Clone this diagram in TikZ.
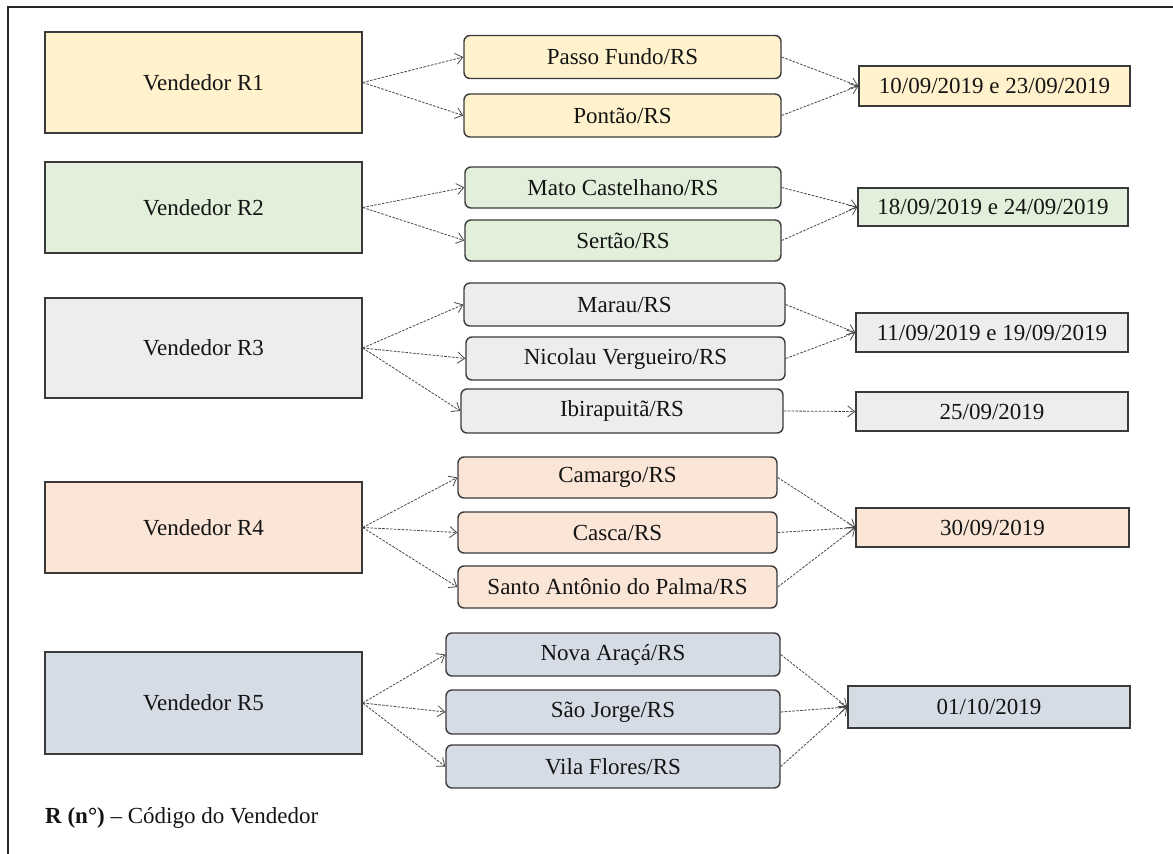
\documentclass[tikz,border=0pt]{standalone}
\usepackage{fontspec}
\setmainfont{Liberation Serif}
\usetikzlibrary{arrows.meta}

\definecolor{boxline}{HTML}{3A3A3A}
\definecolor{linkgray}{HTML}{474747}
\definecolor{framecol}{HTML}{262626}
\definecolor{inkcol}{HTML}{141414}
\definecolor{fillA}{HTML}{FFF2CC}
\definecolor{fillB}{HTML}{E2EFDA}
\definecolor{fillC}{HTML}{EDEDED}
\definecolor{fillD}{HTML}{FBE5D6}
\definecolor{fillE}{HTML}{D6DCE5}

\begin{document}
\begin{tikzpicture}[x=1pt, y=-1pt,
  every node/.style={font=\fontsize{23}{27}\selectfont, text=inkcol, inner sep=0pt},
  vend/.style={draw=boxline, line width=1.4pt, minimum width=317pt},
  city/.style={draw=boxline, line width=1.4pt, rounded corners=6pt},
  datebox/.style={draw=boxline, line width=1.4pt},
  link/.style={draw=linkgray, line width=0.8pt, dash pattern=on 2.6pt off 1.3pt,
    -{Straight Barb[length=7pt, width=11pt]}}
]
\useasboundingbox (0,0) rectangle (1173,854);

% outer frame (top and left edges)
\draw[framecol, line width=2pt] (8,854) -- (8,7) -- (1173,7);

% sellers
\node[vend, fill=fillA, minimum height=101pt] (v1) at (203.5,82.5) {Vendedor R1};
\node[vend, fill=fillB, minimum height=91pt]  (v2) at (203.5,207.5) {Vendedor R2};
\node[vend, fill=fillC, minimum height=100pt] (v3) at (203.5,348) {Vendedor R3};
\node[vend, fill=fillD, minimum height=91pt]  (v4) at (203.5,527.5) {Vendedor R4};
\node[vend, fill=fillE, minimum height=102pt] (v5) at (203.5,703) {Vendedor R5};

% cities
\node[city, fill=fillA, minimum width=317pt, minimum height=43pt] (c11) at (622.5,57) {Passo Fundo/RS};
\node[city, fill=fillA, minimum width=317pt, minimum height=43pt] (c12) at (622.5,115.5) {Pontão/RS};

\node[city, fill=fillB, minimum width=316pt, minimum height=41pt] (c21) at (623,187.5) {Mato Castelhano/RS};
\node[city, fill=fillB, minimum width=316pt, minimum height=41pt] (c22) at (623,240.5) {Sertão/RS};

\node[city, fill=fillC, minimum width=321pt, minimum height=43pt] (c31) at (624.5,304.5) {Marau/RS};
\node[city, fill=fillC, minimum width=319pt, minimum height=43pt] (c32) at (625.5,358.5) {Nicolau Vergueiro/RS};
\node[city, fill=fillC, minimum width=322pt, minimum height=44pt] (c33) at (622,411) {Ibirapuitã/RS};

\node[city, fill=fillD, minimum width=319pt, minimum height=41pt] (c41) at (617.5,477.5) {Camargo/RS};
\node[city, fill=fillD, minimum width=319pt, minimum height=41pt] (c42) at (617.5,532.5) {Casca/RS};
\node[city, fill=fillD, minimum width=319pt, minimum height=42pt] (c43) at (617.5,587) {Santo Antônio do Palma/RS};

\node[city, fill=fillE, minimum width=334pt, minimum height=43pt] (c51) at (613,654.5) {Nova Araçá/RS};
\node[city, fill=fillE, minimum width=334pt, minimum height=44pt] (c52) at (613,712) {São Jorge/RS};
\node[city, fill=fillE, minimum width=334pt, minimum height=43pt] (c53) at (613,766.5) {Vila Flores/RS};

% visit dates
\node[datebox, fill=fillA, minimum width=271pt, minimum height=40pt] (d1)  at (994.5,86) {10/09/2019 e 23/09/2019};
\node[datebox, fill=fillB, minimum width=270pt, minimum height=38pt] (d2)  at (993,207) {18/09/2019 e 24/09/2019};
\node[datebox, fill=fillC, minimum width=272pt, minimum height=39pt] (d31) at (992,332.5) {11/09/2019 e 19/09/2019};
\node[datebox, fill=fillC, minimum width=272pt, minimum height=39pt] (d32) at (992,411.5) {25/09/2019};
\node[datebox, fill=fillD, minimum width=273pt, minimum height=39pt] (d4)  at (992.5,527.5) {30/09/2019};
\node[datebox, fill=fillE, minimum width=282pt, minimum height=42pt] (d5)  at (989,707) {01/10/2019};

% seller -> city
\foreach \s/\c in {v1/c11, v1/c12, v2/c21, v2/c22, v3/c31, v3/c32, v3/c33,
                   v4/c41, v4/c42, v4/c43, v5/c51, v5/c52, v5/c53}
  \draw[link] (\s.east) -- (\c.west);

% city -> date
\foreach \c/\d in {c11/d1, c12/d1, c21/d2, c22/d2, c31/d31, c32/d31, c33/d32,
                   c41/d4, c42/d4, c43/d4, c51/d5, c52/d5, c53/d5}
  \draw[link] (\c.east) -- (\d.west);

% legend
\node[anchor=west] (legend) at (45,818) {\textbf{R (n°)} – Código do Vendedor};
\end{tikzpicture}
\end{document}
